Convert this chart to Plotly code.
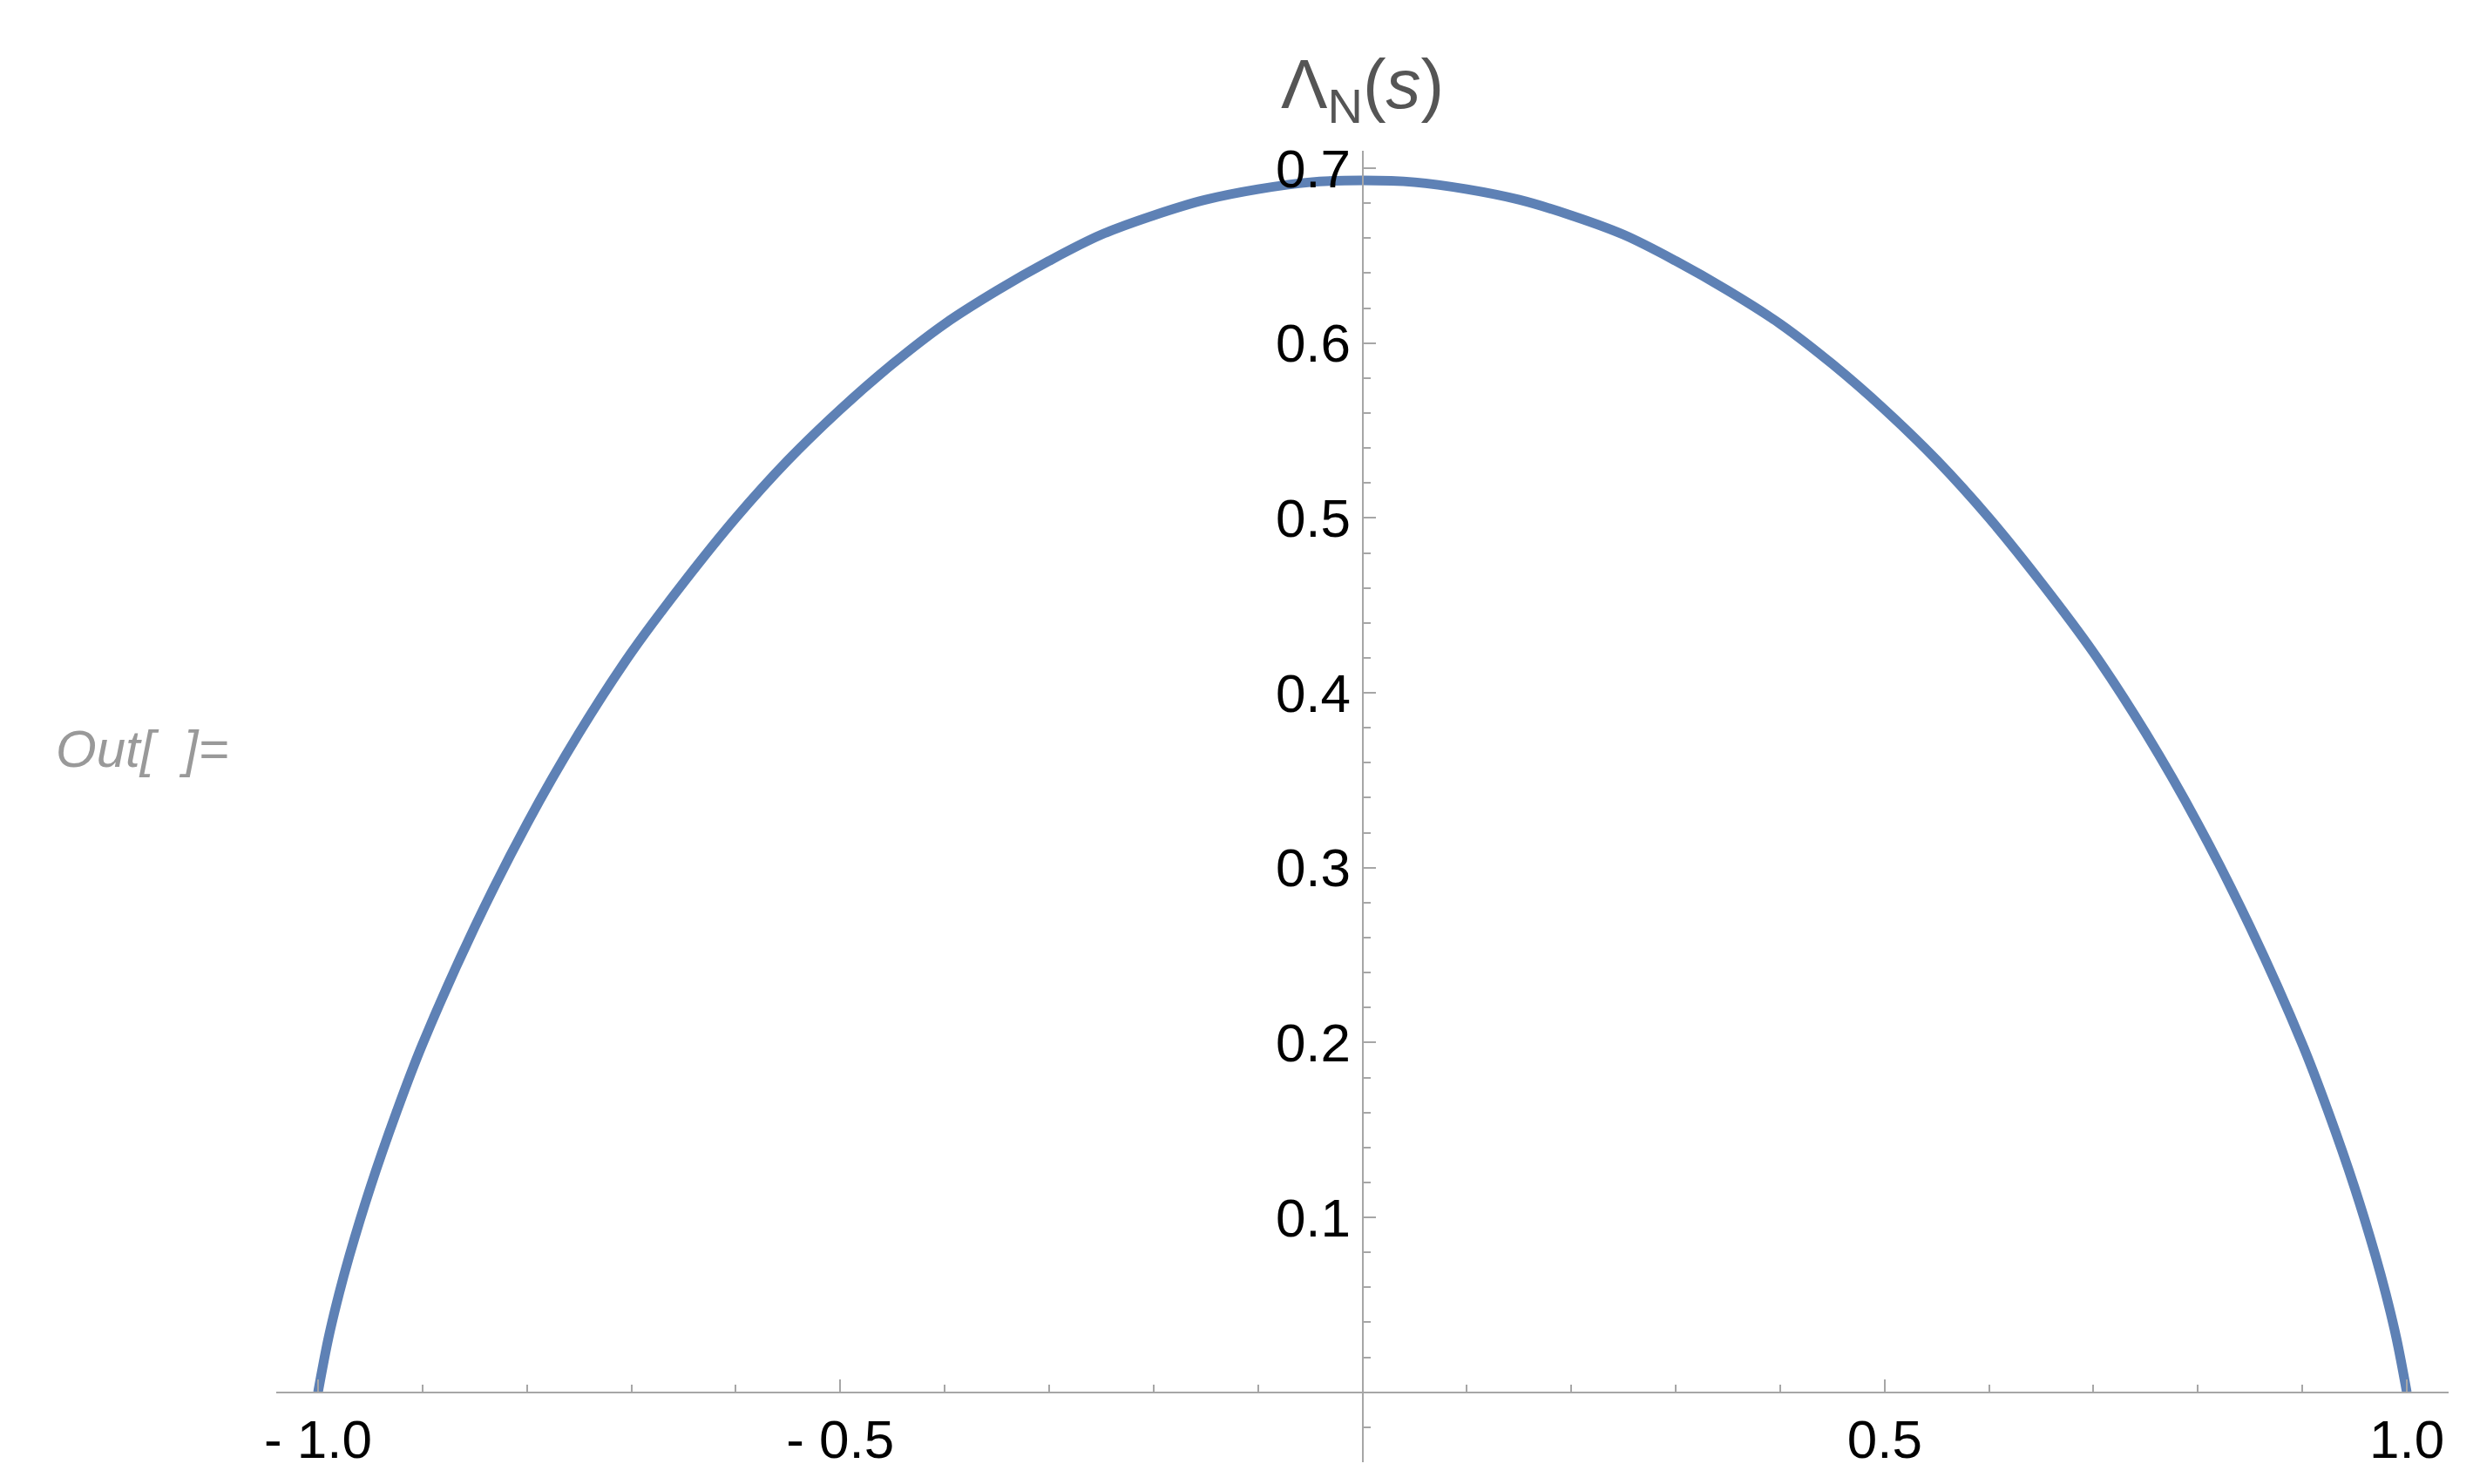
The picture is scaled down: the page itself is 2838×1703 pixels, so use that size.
import plotly.graph_objects as go

s_right = [0.0, 0.05, 0.1, 0.15, 0.2, 0.25, 0.3, 0.35, 0.4, 0.45, 0.5, 0.55, 0.6, 0.65, 0.7, 0.75, 0.8, 0.85, 0.9, 0.925, 0.95, 0.97, 0.98, 0.99, 1.0]
lam_right = [0.693, 0.692, 0.688, 0.682, 0.673, 0.662, 0.647, 0.630, 0.611, 0.588, 0.562, 0.533, 0.500, 0.463, 0.423, 0.377, 0.325, 0.266, 0.199, 0.160, 0.117, 0.078, 0.056, 0.031, 0.0]

s_vals = [-v for v in reversed(s_right[1:])] + s_right
lam_vals = list(reversed(lam_right[1:])) + lam_right

x_tick_vals = [-1.0, -0.5, 0.5, 1.0]
x_tick_text = ["- 1.0", "- 0.5", "0.5", "1.0"]
y_tick_vals = [0.1, 0.2, 0.3, 0.4, 0.5, 0.6, 0.7]
y_tick_text = ["0.1", "0.2", "0.3", "0.4", "0.5", "0.6", "0.7"]

W, H = 2838, 1703
L, R, T, B = 309, 36, 165, 33
xr = [-1.04, 1.04]
yr = [-0.04, 0.71]

fig = go.Figure(go.Scatter(x=s_vals, y=lam_vals, mode="lines",
                           line=dict(color="#5e81b5", width=11, shape="spline"),
                           hoverinfo="skip"))

axcol = "#a6a6a6"
fig.update_layout(
    width=W, height=H, plot_bgcolor="white", paper_bgcolor="white",
    margin=dict(l=L, r=R, t=T, b=B), showlegend=False,
    font=dict(family="Liberation Sans, Arial, sans-serif", size=62, color="black"),
    xaxis=dict(range=xr, showgrid=False, zeroline=False, showline=True, linecolor=axcol, linewidth=2,
               anchor="free", position=(0 - yr[0]) / (yr[1] - yr[0]),
               tickvals=x_tick_vals, ticktext=x_tick_text, ticks="inside", ticklen=14,
               tickcolor=axcol, tickwidth=2,
               minor=dict(dtick=0.1, tick0=0, ticks="inside", ticklen=8, tickcolor=axcol, tickwidth=2)),
    yaxis=dict(range=yr, showgrid=False, zeroline=False, showline=True, linecolor=axcol, linewidth=2,
               anchor="free", position=(0 - xr[0]) / (xr[1] - xr[0]),
               tickvals=y_tick_vals, ticktext=y_tick_text, ticks="inside", ticklen=14,
               tickcolor=axcol, tickwidth=2,
               minor=dict(dtick=0.02, tick0=0, ticks="inside", ticklen=8, tickcolor=axcol, tickwidth=2)),
    annotations=[
        dict(text="Λ<sub>N</sub>(<i>s</i>)", x=0, xref="x", y=1, yref="paper", yanchor="bottom",
             yshift=18, showarrow=False, font=dict(size=80, color="#555555")),
        dict(text="<i>Out[  ]=</i>", x=(155 - L) / (W - L - R), xref="paper", xanchor="center",
             y=(H - 852 - B) / (H - T - B), yref="paper", showarrow=False,
             font=dict(size=60, color="#999999")),
    ],
)
fig.write_html("out.html")
